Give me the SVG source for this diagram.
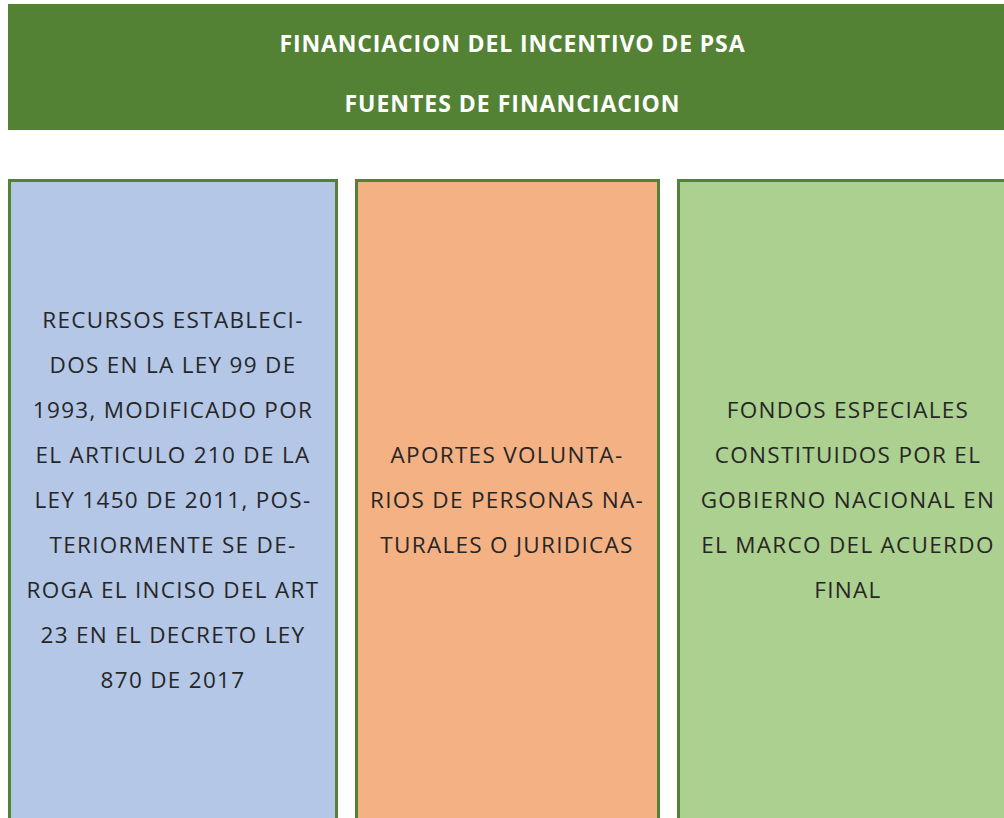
<svg xmlns="http://www.w3.org/2000/svg" width="1004" height="818" viewBox="0 0 1004 818">
<style>
.hdr{font-family:"Open Sans",Lato,sans-serif;font-weight:bold;font-size:23px;fill:#ffffff;text-anchor:middle}
.box{stroke:#538135;stroke-width:3}
.t{font-family:"Open Sans",Lato,sans-serif;font-size:22.5px;letter-spacing:1.3px;fill:#262626;text-anchor:middle}
</style>
<rect width="1004" height="818" fill="#ffffff"/>
<g id="header">
<rect x="8" y="4" width="1000" height="126" fill="#548235"/>
<text class="hdr" x="512" y="52" textLength="465" lengthAdjust="spacing">FINANCIACION DEL INCENTIVO DE PSA</text>
<text class="hdr" x="512" y="112" textLength="335" lengthAdjust="spacing">FUENTES DE FINANCIACION</text>
</g>
<g id="connectors"></g>
<g id="box1">
<rect class="box" x="9.5" y="180.5" width="327" height="650" fill="#B4C7E7"/>
<text class="t" x="173" y="328">RECURSOS ESTABLECI-</text>
<text class="t" x="173" y="373">DOS EN LA LEY 99 DE</text>
<text class="t" x="173" y="418">1993, MODIFICADO POR</text>
<text class="t" x="173" y="463">EL ARTICULO 210 DE LA</text>
<text class="t" x="173" y="508">LEY 1450 DE 2011, POS-</text>
<text class="t" x="173" y="553">TERIORMENTE SE DE-</text>
<text class="t" x="173" y="598">ROGA EL INCISO DEL ART</text>
<text class="t" x="173" y="643">23 EN EL DECRETO LEY</text>
<text class="t" x="173" y="688">870 DE 2017</text>
</g>
<g id="box2">
<rect class="box" x="356.5" y="180.5" width="302" height="650" fill="#F4B183"/>
<text class="t" x="507" y="463">APORTES VOLUNTA-</text>
<text class="t" x="507" y="508">RIOS DE PERSONAS NA-</text>
<text class="t" x="507" y="553">TURALES O JURIDICAS</text>
</g>
<g id="box3">
<rect class="box" x="678.5" y="180.5" width="340" height="650" fill="#ACD08F"/>
<text class="t" x="848" y="418">FONDOS ESPECIALES</text>
<text class="t" x="848" y="463">CONSTITUIDOS POR EL</text>
<text class="t" x="848" y="508">GOBIERNO NACIONAL EN</text>
<text class="t" x="848" y="553">EL MARCO DEL ACUERDO</text>
<text class="t" x="848" y="598">FINAL</text>
</g>
</svg>
